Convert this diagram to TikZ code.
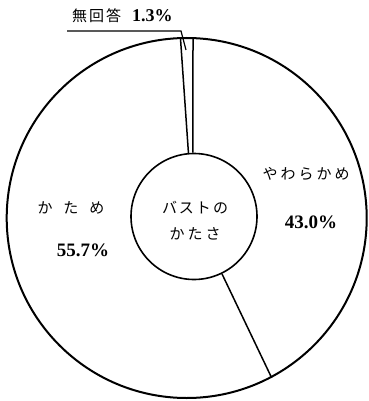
\documentclass[tikz,border=0pt]{standalone}
\usepackage{fontspec}
\setmainfont{Liberation Serif}
\newfontfamily\jpfont{Noto Sans CJK JP}
\usetikzlibrary{positioning}

\tikzset{
    ring/.style={draw, circle, line width=2pt, inner sep=0pt},
    border/.style={line width=1.5pt},
    jplabel/.style={font=\jpfont\fontsize{15}{17}\selectfont, inner sep=1pt},
    pct/.style={font=\bfseries\fontsize{19}{21}\selectfont, inner sep=1pt},
}

\begin{document}
\begin{tikzpicture}[x=1pt,y=-1pt]
    \useasboundingbox (0,0) rectangle (368,401);
    \node[ring, minimum size=360pt] (rim) at (186.7,218) {};
    \node[ring, minimum size=126pt, line width=1.6pt] (hub) at (194,216.5) {};
    % slice borders
    \draw[border] (hub.91) -- (rim.88);
    \draw[border] (hub.95) -- (rim.92);
    \draw[border] (hub.-64) -- (rim.-62);
    % labels
    \node[jplabel] (soft) at (306,174) {や\hspace{3pt}わ\hspace{3pt}ら\hspace{3pt}か\hspace{3pt}め};
    \node[pct] (softpct) at (311,222) {43.0\%};
    \node[jplabel] (hard) at (71,208) {か\hspace{11pt}た\hspace{11pt}め};
    \node[pct] (hardpct) at (83,250) {55.7\%};
    \node[jplabel] (title1) at (195,208) {バ\hspace{2pt}ス\hspace{2pt}ト\hspace{2pt}の};
    \node[jplabel] (title2) at (195,234) {か\hspace{3pt}た\hspace{3pt}さ};
    \node[jplabel, anchor=west] (noans) at (71,16) {無\hspace{2pt}回\hspace{2pt}答\hspace{11pt}{\rmfamily\bfseries\fontsize{18}{20}\selectfont 1.3\%}};
    % leader line
    \coordinate (leadstart) at (67,31);
    \coordinate (leadtip) at (186,50);
    \draw[line width=1.2pt] (leadstart) -- (181,31) -- (leadtip);
\end{tikzpicture}
\end{document}
